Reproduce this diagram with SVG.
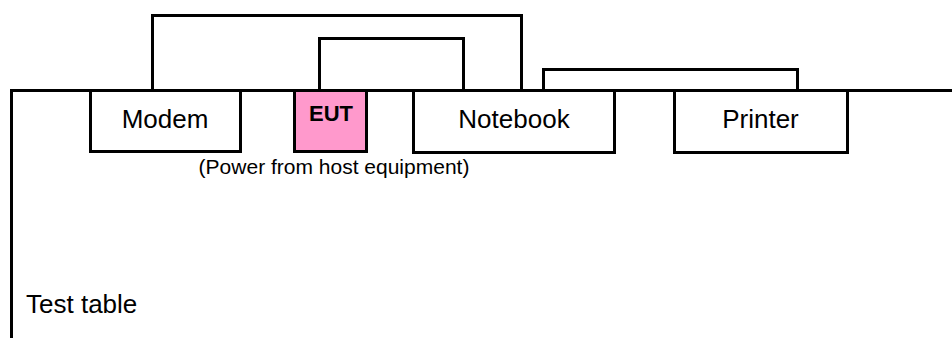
<svg xmlns="http://www.w3.org/2000/svg" width="952" height="338" viewBox="0 0 952 338">
  <style>
    .line { fill: none; stroke: #000; stroke-width: 3; stroke-linejoin: miter; }
    .box { fill: #fff; stroke: #000; stroke-width: 3; }
    .eut { fill: #ff99cc; stroke: #000; stroke-width: 3; }
    .label { font-family: "Liberation Sans", Arial, sans-serif; font-size: 26px; fill: #000; text-anchor: middle; }
    .bold { font-weight: bold; font-size: 22px; }
    .note { font-family: "Liberation Sans", Arial, sans-serif; font-size: 21px; fill: #000; }
  </style>
  <rect width="952" height="338" fill="#fff"/>

  <!-- test table outline -->
  <g id="table">
    <path class="line" d="M11.5 338 V90.5 H952"/>
    <text class="note" x="26" y="313" style="font-size:26px">Test table</text>
  </g>

  <!-- cables between devices -->
  <g id="connectors">
    <path class="line" d="M152.5 90 V15.5 H521.5 V90"/>
    <path class="line" d="M319.5 90 V38.5 H463.5 V90"/>
    <path class="line" d="M543.5 90 V69.5 H797.5 V90"/>
  </g>

  <g id="modem">
    <rect class="box" x="90.5" y="90.5" width="150" height="61"/>
    <text class="label" x="165" y="128">Modem</text>
  </g>

  <g id="eut">
    <rect class="eut" x="294.5" y="90.5" width="72" height="61"/>
    <text class="label bold" x="331" y="120.5">EUT</text>
    <text class="note" x="334" y="174" text-anchor="middle">(Power from host equipment)</text>
  </g>

  <g id="notebook">
    <rect class="box" x="413.5" y="90.5" width="201" height="62"/>
    <text class="label" x="514" y="128">Notebook</text>
  </g>

  <g id="printer">
    <rect class="box" x="674.5" y="90.5" width="173" height="62"/>
    <text class="label" x="760.5" y="128">Printer</text>
  </g>
</svg>
